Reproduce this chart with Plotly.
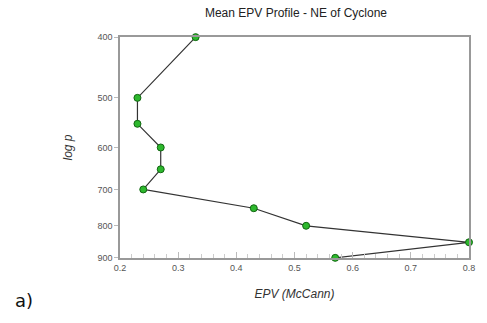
import plotly.graph_objects as go
import numpy as np

epv = [0.33, 0.23, 0.23, 0.27, 0.27, 0.24, 0.43, 0.52, 0.80, 0.57]
pressure = [400, 500, 550, 600, 650, 700, 750, 800, 850, 900]
y_ticks = [400, 500, 600, 700, 800, 900]
x_ticks = [0.2, 0.3, 0.4, 0.5, 0.6, 0.7, 0.8]

fig = go.Figure()
fig.add_trace(go.Scatter(
    x=epv, y=pressure, mode="lines+markers",
    line=dict(color="#333333", width=1.2),
    marker=dict(size=7, color="#2db82d", line=dict(color="#116611", width=1)),
    cliponaxis=False, showlegend=False,
))

W, H = 487, 323
L, R, T, B = 120, 14, 37, 65

fig.update_layout(
    width=W, height=H,
    margin=dict(l=L, r=R, t=T, b=B),
    paper_bgcolor="white", plot_bgcolor="white",
    font=dict(family="Liberation Sans, Arial", color="#444444"),
    title=dict(text="Mean EPV Profile - NE of Cyclone", x=(296) / W, xanchor="center",
               y=1 - 13 / H, yanchor="middle",
               font=dict(size=12, color="#222222")),
    xaxis=dict(
        range=[0.2, 0.8], tickvals=x_ticks, ticktext=[f"{v:g}" for v in x_ticks],
        showgrid=False, zeroline=False,
        showline=True, linecolor="#999999", linewidth=1.5, mirror=True,
        ticks="inside", ticklen=6, tickcolor="#bbbbbb",
        minor=dict(dtick=0.02, ticks="inside", ticklen=4, tickcolor="#cccccc"),
        tickfont=dict(size=9, color="#555555"),
        title=dict(text="<i>EPV (McCann)</i>", font=dict(size=12, color="#333333"), standoff=18),
    ),
    yaxis=dict(
        type="log", range=[np.log10(900.5), np.log10(399.8)],
        tickvals=y_ticks, ticktext=[str(v) for v in y_ticks],
        showgrid=False, zeroline=False,
        showline=True, linecolor="#999999", linewidth=1.5, mirror=True,
        ticks="outside", ticklen=4, tickcolor="#bbbbbb",
        tickfont=dict(size=9, color="#555555"),
        title=dict(text="<i>log p</i>", font=dict(size=12, color="#333333"), standoff=22),
    ),
    annotations=[dict(text="a)", xref="paper", yref="paper",
                      x=-L / (W - L - R) + 12 / (W - L - R), y=-(300 - (H - B)) / (H - T - B),
                      xanchor="left", yanchor="middle", showarrow=False,
                      font=dict(family="DejaVu Sans", size=18, color="#111111"))],
)

fig.write_html("out.html")
